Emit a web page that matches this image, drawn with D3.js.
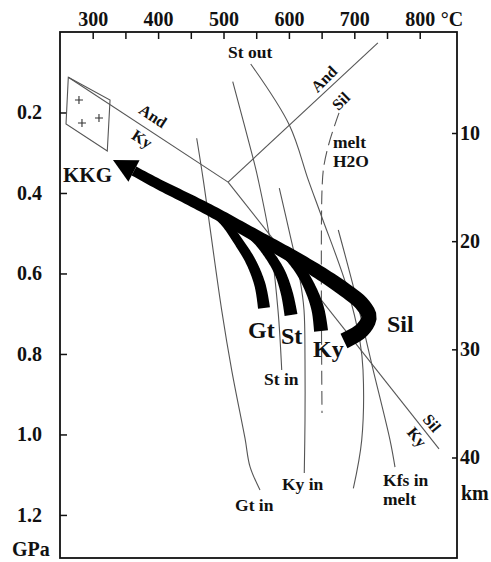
<!DOCTYPE html>
<html>
<head>
<meta charset="utf-8">
<script src="https://cdn.jsdelivr.net/npm/d3@7"></script>
<style>
  body { margin: 0; background: #fff; }
  svg text { font-family: 'Liberation Serif', 'Times New Roman', Times, serif; font-weight: bold; fill: #111; }
  .axis text { font-size: 20px; }
  .axis line { stroke: #111; stroke-width: 1.5; }
</style>
</head>
<body>
<div id="chart"></div>
<script>
// axis ticks
const TEMP_TICKS = [300, 350, 400, 450, 500, 550, 600, 650, 700, 750, 800];
const TEMP_LABELS = [300, 400, 500, 600, 700, 800];
const PRESSURE_TICKS = [0.2, 0.4, 0.6, 0.8, 1.0, 1.2];
const DEPTH_TICKS = [10, 20, 30, 40];

// Al2SiO5 boundaries, [T degC, P GPa]
const andKy = [[262.7, 0.1126], [507, 0.373]];
const andSil = [[507, 0.373], [736, 0.027]];
const kySil = [[507, 0.373], [829.5, 1.036]];

// reaction curves
const gtIn = [[459, 0.264], [469.1, 0.368], [497.2, 0.691], [512.5, 0.84], [532.9, 1.01], [540.5, 1.08], [555.8, 1.138]];
const stIn = [[514.1, 0.1235], [545.6, 0.316], [553.2, 0.368], [571.1, 0.517], [583.3, 0.691], [589, 0.84]];
const stOut = [[541.6, 0.0795], [600.6, 0.231], [629.7, 0.368], [650.1, 0.459], [688.4, 0.633], [708.7, 0.77], [713.3, 0.84], [711.3, 1.014], [698.5, 1.134]];
const kyIn = [[585.3, 0.388], [601.7, 0.504], [617, 0.616], [623.1, 0.691], [624.6, 0.815], [624.6, 0.964], [623.5, 1.096]];
const kfsIn = [[675.5, 0.492], [701.1, 0.649], [727, 0.8275], [754.6, 1.014], [762.2, 1.081]];
const wetSolidus = [[676.6, 0.201], [662.8, 0.268], [653.7, 0.3305], [650.6, 0.393], [650.6, 0.947]];

// KKG sample field
const kkgBox = [[262.7, 0.1126], [326.5, 0.169], [322.3, 0.2957], [259.2, 0.2286]];
const kkgSamples = [[279, 0.169], [283.6, 0.226], [309.6, 0.2137]];

// P-T paths (peak -> retrograde)
const trunkPath = [[684.2, 0.7678], [711.8, 0.7405], [722.5, 0.7082], [711.8, 0.6759], [685.8, 0.6411], [647.5, 0.5988],
                   [601.7, 0.5541], [563.4, 0.5193], [525.2, 0.4845], [487, 0.4497], [448.8, 0.4174], [402.9, 0.3802], [363.1, 0.3454]];
const arrowTip = [331, 0.3181];
const gtPath = [[561.9, 0.6858], [555.8, 0.6287], [542, 0.5715], [522.2, 0.5193], [503.8, 0.4771], [487, 0.4497]];
const stPath = [[603.2, 0.7032], [597.1, 0.651], [586.4, 0.5988], [571.1, 0.5566], [549.7, 0.5144], [525.2, 0.4845]];
const kyPath = [[649.1, 0.743], [644.5, 0.6908], [633.8, 0.6411], [617, 0.5914], [592.5, 0.5467], [563.4, 0.5193]];

// labels, [text, T, P]
const peakLabels = [["Gt", 537.5, 0.7603], ["St", 587.9, 0.7753], ["Ky", 636.8, 0.8076], ["Sil", 750, 0.7454]];
const reactionLabels = [["St out", 506.9, 0.0646], ["melt", 667.4, 0.2882], ["H2O", 667.4, 0.3354], ["St in", 561.9, 0.8771],
                        ["Gt in", 517.6, 1.1902], ["Ky in", 589.4, 1.138], ["Kfs in", 743.9, 1.1281], ["melt", 743.9, 1.1753]];
const andKyLabels = [["And", 392.2, 0.2087], ["Ky", 375.4, 0.2659]];
const andSilLabels = [["And", 653.7, 0.1168], ["Sil", 679.6, 0.1715]];
const kySilLabels = [["Sil", 818.8, 0.9716], ["Ky", 795.9, 1.0064]];

const width = 491, height = 562;
const svg = d3.select("#chart").append("svg").attr("width", width).attr("height", height);
svg.append("rect").attr("width", width).attr("height", height).attr("fill", "#fff");

const x = d3.scaleLinear().domain([250, 857]).range([60, 457]);
const y = d3.scaleLinear().domain([0, 1.307]).range([32, 558]);
const depth = d3.scaleLinear().domain([10, 40]).range([133, 457.5]);

const straight = d3.line().x(d => x(d[0])).y(d => y(d[1]));
const smooth = d3.line().x(d => x(d[0])).y(d => y(d[1])).curve(d3.curveCatmullRom.alpha(0.5));

// frame
svg.append("rect")
    .attr("x", x.range()[0]).attr("y", y.range()[0])
    .attr("width", x.range()[1] - x.range()[0])
    .attr("height", y.range()[1] - y.range()[0])
    .attr("fill", "none").attr("stroke", "#111").attr("stroke-width", 1.8);

// axes
const topAxis = svg.append("g").attr("class", "axis").attr("transform", `translate(0,${y.range()[0]})`)
    .call(d3.axisTop(x).tickValues(TEMP_TICKS).tickSize(-7).tickPadding(6)
        .tickFormat(d => TEMP_LABELS.includes(d) ? d : ""));
topAxis.select(".domain").remove();
svg.append("text").attr("x", x(800) + 21).attr("y", y.range()[0] - 6)
    .style("font-size", "20px").text("°C");

const leftAxis = svg.append("g").attr("class", "axis").attr("transform", `translate(${x.range()[0]},0)`)
    .call(d3.axisLeft(y).tickValues(PRESSURE_TICKS).tickSize(-7).tickPadding(18).tickFormat(d3.format(".1f")));
leftAxis.select(".domain").remove();
svg.append("text").attr("x", 12).attr("y", 556).style("font-size", "20px").text("GPa");

const rightAxis = svg.append("g").attr("class", "axis").attr("transform", `translate(${x.range()[1]},0)`)
    .call(d3.axisRight(depth).tickValues(DEPTH_TICKS).tickSize(-5).tickPadding(3));
rightAxis.select(".domain").remove();
svg.append("text").attr("x", 461).attr("y", 500).style("font-size", "20px").text("km");

// thin curves
const thin = svg.append("g").attr("fill", "none").attr("stroke", "#555").attr("stroke-width", 1.1);
[andKy, andSil, kySil].forEach(l => thin.append("path").attr("d", straight(l)));
[gtIn, stIn, stOut, kyIn, kfsIn].forEach(l => thin.append("path").attr("d", smooth(l)));
thin.append("path").attr("d", smooth(wetSolidus)).attr("stroke-dasharray", "14,6");
thin.append("path").attr("d", straight(kkgBox) + "Z");
kkgSamples.forEach(d => {
    const cx = x(d[0]), cy = y(d[1]);
    thin.append("path").attr("d", `M${cx - 4},${cy}H${cx + 4}M${cx},${cy - 4}V${cy + 4}`).attr("stroke", "#333");
});

// thick P-T paths as tapered ribbons
function ribbon(pts, w0, w1) {
    const tmp = svg.append("path").attr("d", smooth(pts));
    const node = tmp.node(), len = node.getTotalLength(), n = 90;
    const a = [], b = [];
    for (let i = 0; i <= n; i++) {
        const s = len * i / n;
        const p = node.getPointAtLength(s);
        const p0 = node.getPointAtLength(Math.max(0, s - 1));
        const p1 = node.getPointAtLength(Math.min(len, s + 1));
        let dx = p1.x - p0.x, dy = p1.y - p0.y;
        const m = Math.hypot(dx, dy) || 1;
        dx /= m; dy /= m;
        const w = (w0 + (w1 - w0) * i / n) / 2;
        a.push([p.x - dy * w, p.y + dx * w]);
        b.push([p.x + dy * w, p.y - dx * w]);
    }
    tmp.remove();
    svg.append("path").attr("d", d3.line()(a.concat(b.reverse())) + "Z").attr("fill", "#000");
}
ribbon(trunkPath, 16, 10);
ribbon(gtPath, 12, 8);
ribbon(stPath, 13, 8);
ribbon(kyPath, 14, 8);

// arrow head
const base = trunkPath[trunkPath.length - 1];
const bx = x(base[0]), by = y(base[1]), tx = x(arrowTip[0]), ty = y(arrowTip[1]);
const ux = (tx - bx) / Math.hypot(tx - bx, ty - by), uy = (ty - by) / Math.hypot(tx - bx, ty - by);
const hw = 12;
svg.append("path")
    .attr("d", `M${tx},${ty}L${bx - uy * hw},${by + ux * hw}L${bx + uy * hw},${by - ux * hw}Z`)
    .attr("fill", "#000");

// labels
svg.append("text").attr("x", x(254.6)).attr("y", y(0.3727)).style("font-size", "21px").text("KKG");
svg.selectAll(".peak").data(peakLabels).enter().append("text")
    .attr("x", d => x(d[1])).attr("y", d => y(d[2])).style("font-size", "24px").text(d => d[0]);
svg.selectAll(".react").data(reactionLabels).enter().append("text")
    .attr("x", d => x(d[1])).attr("y", d => y(d[2])).style("font-size", "17.5px").text(d => d[0]);

function rotated(list, angle) {
    list.forEach(d => {
        svg.append("text")
            .attr("transform", `translate(${x(d[1])},${y(d[2])}) rotate(${angle})`)
            .attr("text-anchor", "middle").attr("dominant-baseline", "central")
            .style("font-size", "16px").text(d[0]);
    });
}
rotated(andKyLabels, 33);
rotated(andSilLabels, -45);
rotated(kySilLabels, 50);
</script>
</body>
</html>
